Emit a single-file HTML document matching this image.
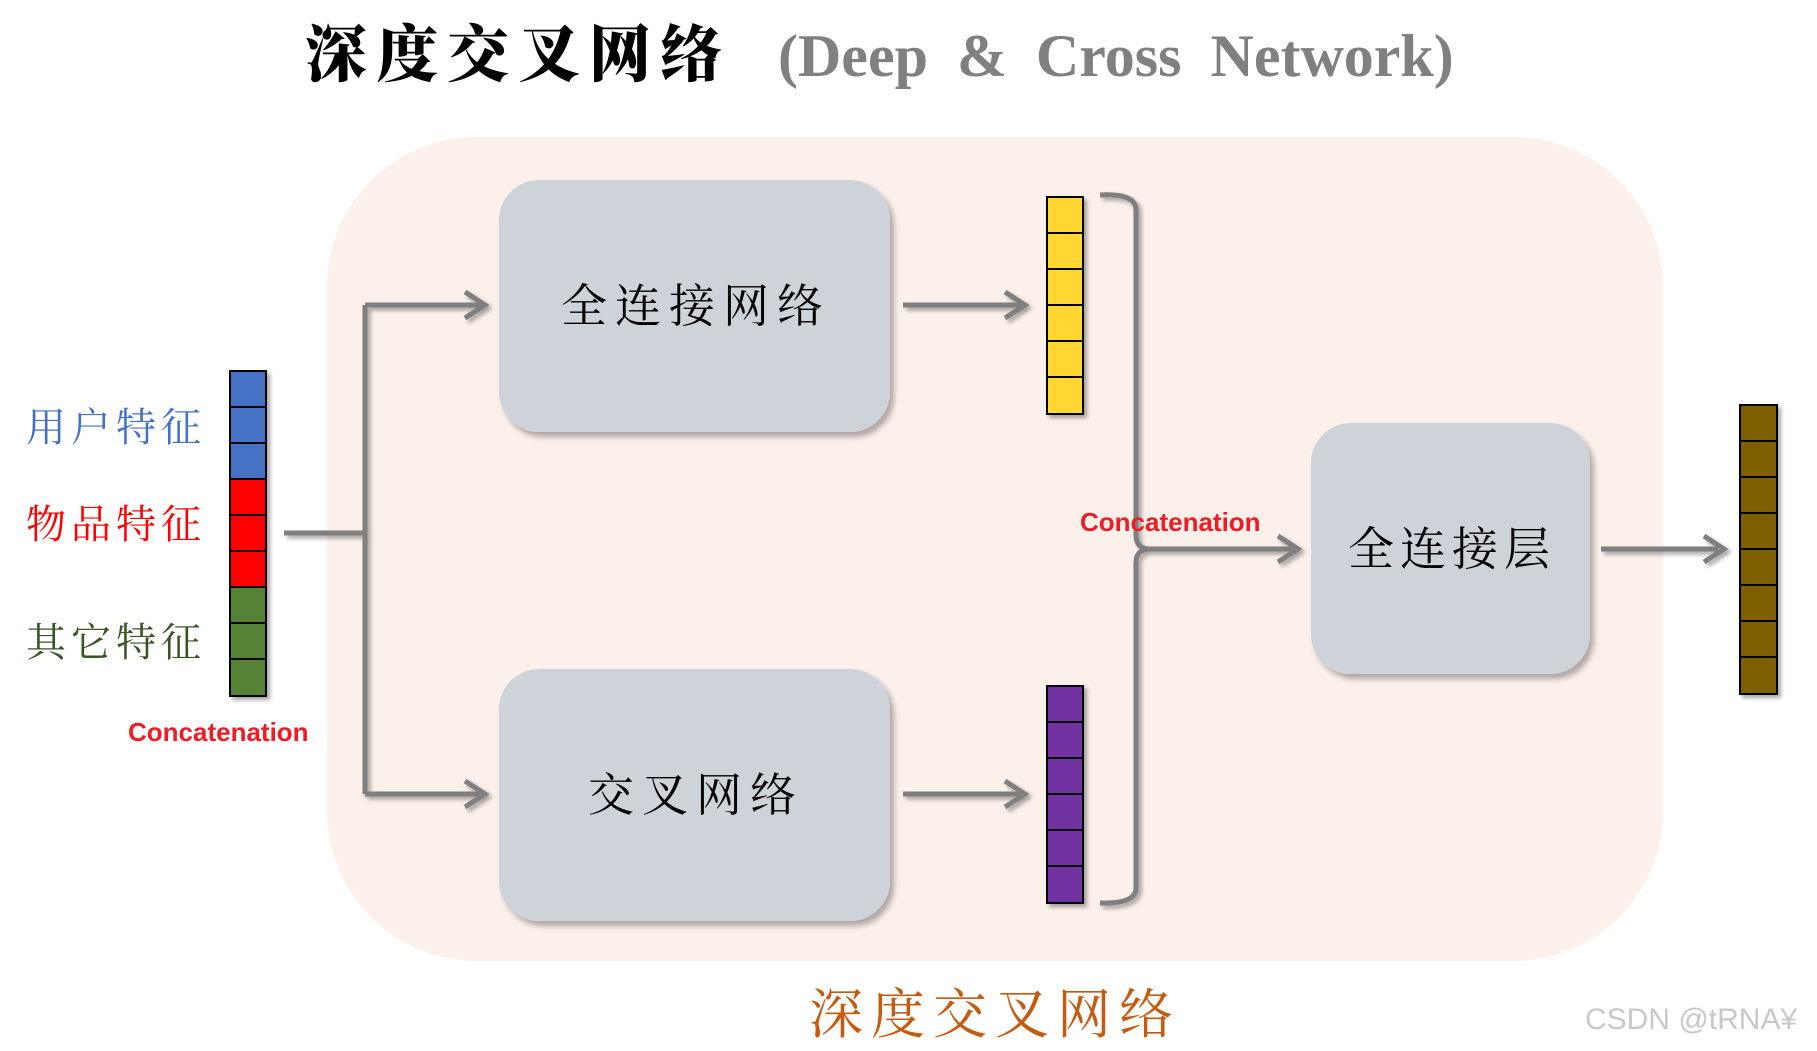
<!DOCTYPE html>
<html><head><meta charset="utf-8"><style>
html,body{margin:0;padding:0;background:#fff;}
svg{display:block;}
</style></head><body>
<svg width="1817" height="1051" viewBox="0 0 1817 1051" xmlns="http://www.w3.org/2000/svg">
<defs>
<filter id="sh" x="-10%" y="-10%" width="130%" height="130%"><feDropShadow dx="4" dy="5" stdDeviation="3" flood-color="#000" flood-opacity="0.3"/></filter>
<filter id="sh2" x="-20%" y="-20%" width="150%" height="150%"><feDropShadow dx="3" dy="3" stdDeviation="2" flood-color="#000" flood-opacity="0.35"/></filter>
<marker id="ar" viewBox="0 0 10 10" refX="8" refY="5" markerWidth="5" markerHeight="5" orient="auto" markerUnits="userSpaceOnUse">
</marker>
</defs>
<text x="305" y="76" font-family="'Noto Serif CJK SC','Noto Sans CJK SC',serif" font-weight="900" font-size="62" fill="#000" letter-spacing="9">深度交叉网络</text>
<text x="778" y="76" font-family="'Liberation Serif',serif" font-weight="bold" font-size="60" fill="#808080" word-spacing="14">(Deep &amp; Cross Network)</text>

<rect x="327" y="137" width="1336" height="824" rx="150" fill="#fbf0ea"/>

<rect x="499" y="180" width="391" height="252" rx="40" fill="#ced3da" filter="url(#sh)"/>
<rect x="499" y="669" width="391" height="252" rx="40" fill="#ced3da" filter="url(#sh)"/>
<rect x="1311" y="423" width="279" height="251" rx="40" fill="#ced3da" filter="url(#sh)"/>
<g font-family="'Noto Serif CJK SC','Noto Sans CJK SC',serif" font-size="46" fill="#000" text-anchor="middle">
<text x="696" y="322" letter-spacing="8">全连接网络</text>
<text x="696" y="811" letter-spacing="8">交叉网络</text>
<text x="1452" y="565" letter-spacing="6">全连接层</text>
</g>

<g stroke="#7f7f7f" stroke-width="5" fill="none" filter="url(#sh2)">
<path d="M284 533 H365 M365 305 V794 M365 305 H480 M365 794 H480"/>
<path d="M465 292 L485 305 L465 318 M465 781 L485 794 L465 807" stroke-linejoin="miter"/>
<path d="M903 305 H1020 M1005 292 L1025 305 L1005 318"/>
<path d="M903 794 H1020 M1005 781 L1025 794 L1005 807"/>
<path d="M1100 195 Q1136 193 1136 210 V535 Q1136 549 1150 549 Q1136 549 1136 563 V888 Q1136 904 1100 903"/>
<path d="M1140 549 H1292 M1278 536 L1298 549 L1278 562"/>
<path d="M1601 549 H1718 M1704 536 L1724 549 L1704 562"/>
</g>

<g stroke="#000" stroke-width="2" filter="url(#sh2)">
<rect x="1047" y="197" width="36" height="217" fill="#ffd632"/>
<path d="M1047 233 H1083 M1047 269 H1083 M1047 305 H1083 M1047 341 H1083 M1047 377 H1083"/>
<rect x="1047" y="686" width="36" height="217" fill="#7030a0"/>
<path d="M1047 722 H1083 M1047 758 H1083 M1047 794 H1083 M1047 830 H1083 M1047 866 H1083"/>
<rect x="1740" y="405" width="37" height="289" fill="#7f6000"/>
<path d="M1740 441 H1777 M1740 477 H1777 M1740 513 H1777 M1740 549 H1777 M1740 585 H1777 M1740 621 H1777 M1740 657 H1777"/>
<rect x="230" y="371" width="36" height="108" fill="#4472c4"/>
<rect x="230" y="479" width="36" height="108" fill="#ff0000"/>
<rect x="230" y="587" width="36" height="109" fill="#548235"/>
<path d="M230 407 H266 M230 443 H266 M230 515 H266 M230 551 H266 M230 623 H266 M230 659 H266"/>
</g>

<g font-family="'Noto Serif CJK SC','Noto Sans CJK SC',serif" font-size="40" letter-spacing="5">
<text x="26" y="441" fill="#4472c4">用户特征</text>
<text x="26" y="538" fill="#ff0000">物品特征</text>
<text x="26" y="656" fill="#375623">其它特征</text>
</g>
<g font-family="'Liberation Sans',sans-serif" font-weight="bold" font-size="26" fill="#ee1c25">
<text x="128" y="741">Concatenation</text>
<text x="1080" y="531">Concatenation</text>
</g>
<text x="809" y="1033" font-family="'Noto Serif CJK SC','Noto Sans CJK SC',serif" font-size="54" fill="#c55a11" letter-spacing="8">深度交叉网络</text>
<text x="1585" y="1029" font-family="'Liberation Sans',sans-serif" font-size="30" fill="#c8c8c8">CSDN @tRNA¥</text>
</svg>
</body></html>
